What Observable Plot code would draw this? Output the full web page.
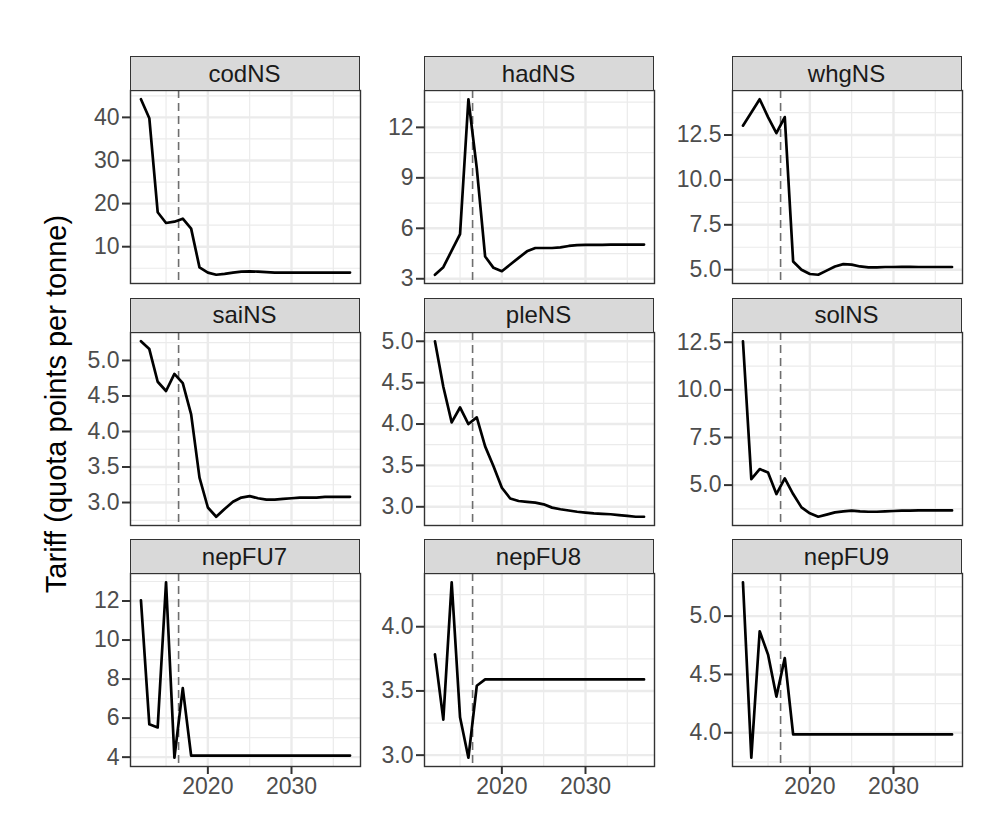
<!DOCTYPE html>
<html>
<head>
<meta charset="utf-8">
<script src="https://cdn.jsdelivr.net/npm/d3@7"></script>
<script src="https://cdn.jsdelivr.net/npm/@observablehq/plot@0.6"></script>
<style>
  body { margin: 0; background: #fff; }
  #chart { position: relative; width: 1008px; height: 828px; background: #fff; font-family: "Liberation Sans", Arial, Helvetica, sans-serif; overflow: hidden; }
  .strip { position: absolute; box-sizing: border-box; background: #D9D9D9; border: 1.4px solid #333333; color: #1A1A1A; font-size: 24px; display: flex; align-items: center; justify-content: center; }
  .panel { position: absolute; }
  #ytitle { position: absolute; width: 640px; height: 36px; line-height: 36px; text-align: center; font-size: 29px; color: #000; transform: rotate(-90deg); transform-origin: 50% 50%; }
</style>
</head>
<body>
<div id="chart"></div>
<script>
// ---- data ----
const years = [2012, 2013, 2014, 2015, 2016, 2017, 2018, 2019, 2020, 2021, 2022, 2023, 2024,
               2025, 2026, 2027, 2028, 2029, 2030, 2031, 2032, 2033, 2034, 2035, 2036, 2037];
const stocks = ["codNS", "hadNS", "whgNS", "saiNS", "pleNS", "solNS", "nepFU7", "nepFU8", "nepFU9"];

const codNS  = [44.2, 39.8, 18.0, 15.5, 15.8, 16.5, 14.2, 5.2, 4.0, 3.5, 3.7, 4.0, 4.2, 4.3, 4.2, 4.1, 4.0, 4.0, 4.0, 4.0, 4.0, 4.0, 4.0, 4.0, 4.0, 4.0];
const hadNS  = [3.24, 3.69, 4.67, 5.65, 13.67, 9.58, 4.32, 3.65, 3.45, 3.85, 4.24, 4.63, 4.83, 4.83, 4.83, 4.87, 4.95, 5.0, 5.02, 5.02, 5.02, 5.03, 5.03, 5.03, 5.03, 5.03];
const whgNS  = [13.02, 13.75, 14.49, 13.5, 12.6, 13.5, 5.46, 5.0, 4.76, 4.72, 4.95, 5.18, 5.31, 5.28, 5.18, 5.13, 5.13, 5.15, 5.15, 5.16, 5.16, 5.15, 5.15, 5.15, 5.15, 5.15];
const saiNS  = [5.27, 5.16, 4.70, 4.57, 4.81, 4.68, 4.24, 3.35, 2.93, 2.80, 2.91, 3.01, 3.07, 3.09, 3.06, 3.04, 3.04, 3.05, 3.06, 3.07, 3.07, 3.07, 3.08, 3.08, 3.08, 3.08];
const pleNS  = [5.0, 4.45, 4.02, 4.20, 4.0, 4.08, 3.73, 3.49, 3.23, 3.10, 3.07, 3.06, 3.05, 3.03, 2.99, 2.97, 2.955, 2.94, 2.93, 2.92, 2.915, 2.91, 2.90, 2.89, 2.88, 2.88];
const solNS  = [12.55, 5.31, 5.84, 5.66, 4.53, 5.35, 4.53, 3.83, 3.52, 3.34, 3.45, 3.57, 3.62, 3.66, 3.62, 3.60, 3.60, 3.62, 3.64, 3.66, 3.66, 3.67, 3.67, 3.67, 3.67, 3.67];
const nepFU7 = [12.03, 5.68, 5.52, 12.96, 3.97, 7.54, 4.08, 4.08, 4.08, 4.08, 4.08, 4.08, 4.08, 4.08, 4.08, 4.08, 4.08, 4.08, 4.08, 4.08, 4.08, 4.08, 4.08, 4.08, 4.08, 4.08];
const nepFU8 = [3.785, 3.277, 4.346, 3.295, 2.98, 3.54, 3.59, 3.59, 3.59, 3.59, 3.59, 3.59, 3.59, 3.59, 3.59, 3.59, 3.59, 3.59, 3.59, 3.59, 3.59, 3.59, 3.59, 3.59, 3.59, 3.59];
const nepFU9 = [5.29, 3.786, 4.87, 4.67, 4.31, 4.64, 3.986, 3.986, 3.986, 3.986, 3.986, 3.986, 3.986, 3.986, 3.986, 3.986, 3.986, 3.986, 3.986, 3.986, 3.986, 3.986, 3.986, 3.986, 3.986, 3.986];

// tick labels per panel
const codNSTicks  = [10, 20, 30, 40];
const hadNSTicks  = [3, 6, 9, 12];
const whgNSTicks  = [5, 7.5, 10, 12.5];
const saiNSTicks  = [3, 3.5, 4, 4.5, 5];
const pleNSTicks  = [3, 3.5, 4, 4.5, 5];
const solNSTicks  = [5, 7.5, 10, 12.5];
const nepFU7Ticks = [4, 6, 8, 10, 12];
const nepFU8Ticks = [3, 3.5, 4];
const nepFU9Ticks = [4, 4.5, 5];
const tickDecimals = [0, 0, 1, 1, 1, 1, 0, 1, 1];

const xTicks = [2020, 2030];
const xMinorTicks = [2015, 2025, 2035];
const cutYear = 2016.5;
const yTitle = "Tariff (quota points per tonne)";

// ---- layout ----
const seriesList = [codNS, hadNS, whgNS, saiNS, pleNS, solNS, nepFU7, nepFU8, nepFU9];
const tickList = [codNSTicks, hadNSTicks, whgNSTicks, saiNSTicks, pleNSTicks, solNSTicks, nepFU7Ticks, nepFU8Ticks, nepFU9Ticks];
const colLeft = [129.5, 423.5, 731.5];
const stripTop = [56, 297.5, 539];
const W = 230, H = 193, stripH = 34;
const ML = 80, MR = 2, MT = 2, MB = 2, MBB = 44;
const font = '"Liberation Sans", Arial, Helvetica, sans-serif';
const xRange = [years[0], years[years.length - 1]];
const xPad = (xRange[1] - xRange[0]) * 0.05;
const xDomain = [xRange[0] - xPad, xRange[1] + xPad];

const chart = document.getElementById("chart");

stocks.forEach((name, k) => {
  const row = Math.floor(k / 3), col = k % 3;
  const vals = seriesList[k];
  const ticks = tickList[k];
  const dec = tickDecimals[k];
  const data = years.map((y, i) => ({year: y, value: vals[i]}));
  const [lo, hi] = d3.extent(vals);
  const pad = (hi - lo) * 0.05;
  const dom = [lo - pad, hi + pad];
  const step = ticks[1] - ticks[0];
  const minor = [ticks[0] - step / 2, ...ticks.map(t => t + step / 2)].filter(v => v > dom[0] && v < dom[1]);
  const bottom = row === 2;
  const mb = bottom ? MBB : MB;

  const p = Plot.plot({
    width: W + ML + MR,
    height: H + MT + mb,
    marginLeft: ML, marginRight: MR, marginTop: MT, marginBottom: mb,
    style: {fontFamily: font, background: "transparent", overflow: "visible"},
    x: {domain: xDomain, axis: null},
    y: {domain: dom, axis: null},
    marks: [
      Plot.gridX(xMinorTicks, {stroke: "#EBEBEB", strokeOpacity: 1, strokeWidth: 1.2}),
      Plot.gridY(minor, {stroke: "#EBEBEB", strokeOpacity: 1, strokeWidth: 1.2}),
      Plot.gridX(xTicks, {stroke: "#EBEBEB", strokeOpacity: 1, strokeWidth: 2.4}),
      Plot.gridY(ticks, {stroke: "#EBEBEB", strokeOpacity: 1, strokeWidth: 2.4}),
      Plot.ruleX([cutYear], {stroke: "#6E6E6E", strokeWidth: 1.6, strokeDasharray: "8,5"}),
      Plot.line(data, {x: "year", y: "value", stroke: "#000", strokeWidth: 2.7}),
      Plot.frame({stroke: "#333333", strokeWidth: 1.4}),
      Plot.axisY(ticks, {tickSize: 8, tickPadding: 3, tickFormat: d => d.toFixed(dec),
        fontSize: 23, stroke: "#333333", strokeWidth: 2, fill: "#4D4D4D", label: null}),
      bottom ? Plot.axisX(xTicks, {tickSize: 8, tickPadding: 3, tickFormat: d => String(d),
        fontSize: 23, stroke: "#333333", strokeWidth: 2, fill: "#4D4D4D", label: null}) : null
    ]
  });
  p.classList.add("panel");
  p.style.left = (colLeft[col] - ML) + "px";
  p.style.top = (stripTop[row] + stripH - MT) + "px";
  chart.appendChild(p);

  const s = document.createElement("div");
  s.className = "strip";
  s.style.left = colLeft[col] + "px";
  s.style.top = stripTop[row] + "px";
  s.style.width = W + "px";
  s.style.height = (stripH + 1) + "px";
  s.textContent = name;
  chart.appendChild(s);
});

const t = document.createElement("div");
t.id = "ytitle";
t.textContent = yTitle;
t.style.left = (56 - 320) + "px";
t.style.top = (404 - 18) + "px";
chart.appendChild(t);
</script>
</body>
</html>
